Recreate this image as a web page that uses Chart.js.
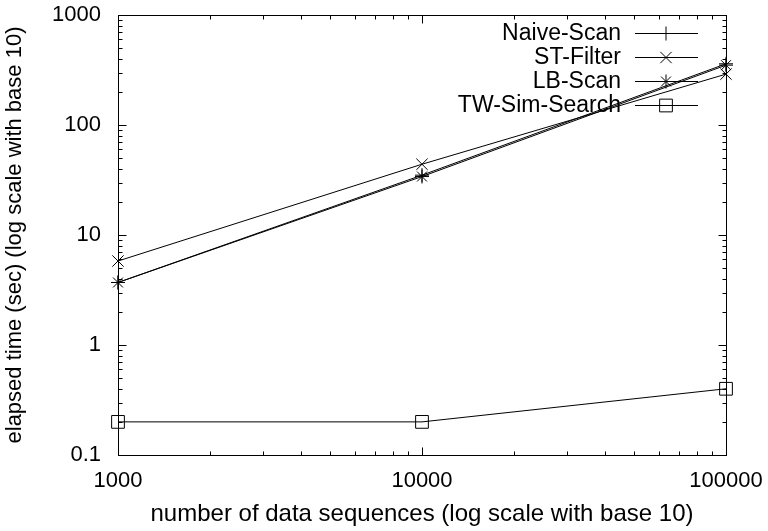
<!DOCTYPE html>
<html>
<head>
<meta charset="utf-8">
<script src="https://cdn.jsdelivr.net/npm/chart.js@4/dist/chart.umd.min.js"></script>
<style>
html,body{margin:0;padding:0;background:#fff;}
#wrap{width:768px;height:531px;position:relative;}
</style>
</head>
<body>
<div id="wrap"><canvas id="c" width="768" height="531"></canvas></div>
<script>
// ---- data ----
const categories = [1000, 10000, 100000];
const naiveScan = [3.7, 35, 360];
const stFilter = [5.8, 44, 290];
const lbScan = [3.7, 34, 350];
const twSimSearch = [0.2, 0.2, 0.4];
const seriesNames = ['Naive-Scan', 'ST-Filter', 'LB-Scan', 'TW-Sim-Search'];
const xTickValues = [1000, 10000, 100000];
const xTickLabels = ['1000', '10000', '100000'];
const yTickValues = [0.1, 1, 10, 100, 1000];
const yTickLabels = ['0.1', '1', '10', '100', '1000'];
const xTitle = 'number of data sequences (log scale with base 10)';
const yTitle = 'elapsed time (sec) (log scale with base 10)';

const FONT = "'Liberation Sans', Arial, Helvetica, sans-serif";
const styles = [
  {pointStyle: 'cross', radius: 7},
  {pointStyle: 'crossRot', radius: 8},
  {pointStyle: 'star', radius: 7},
  {pointStyle: 'rect', radius: 9}
];
const allSeries = [naiveScan, stFilter, lbScan, twSimSearch];

const datasets = allSeries.map((s, i) => ({
  label: seriesNames[i],
  data: categories.map((c, j) => ({x: c, y: s[j]})),
  borderColor: '#000',
  borderWidth: 1,
  backgroundColor: 'transparent',
  pointStyle: styles[i].pointStyle,
  pointRadius: styles[i].radius,
  pointHoverRadius: styles[i].radius,
  pointBorderColor: '#000',
  pointBackgroundColor: 'transparent',
  pointBorderWidth: 1,
  tension: 0,
  clip: false
}));

function drawMarker(ctx, style, r, x, y) {
  ctx.save();
  ctx.strokeStyle = '#000';
  ctx.lineWidth = 1;
  ctx.beginPath();
  if (style === 'cross' || style === 'star') {
    ctx.moveTo(x, y - r); ctx.lineTo(x, y + r);
    ctx.moveTo(x - r, y); ctx.lineTo(x + r, y);
  }
  if (style === 'crossRot' || style === 'star') {
    const d = r * Math.SQRT1_2;
    ctx.moveTo(x - d, y - d); ctx.lineTo(x + d, y + d);
    ctx.moveTo(x - d, y + d); ctx.lineTo(x + d, y - d);
  }
  if (style === 'rect') {
    const s = r * Math.SQRT1_2;
    ctx.rect(x - s, y - s, 2 * s, 2 * s);
  }
  ctx.stroke();
  ctx.restore();
}

function zeroPad(s) {
  s.paddingTop = 0; s.paddingBottom = 0; s.paddingLeft = 0; s.paddingRight = 0;
}

const framePlugin = {
  id: 'frameTicks',
  afterDraw(chart) {
    const ctx = chart.ctx;
    const a = chart.chartArea;
    const xs = chart.scales.x, ys = chart.scales.y;
    const L = Math.round(a.left) + 0.5, R = Math.round(a.right) + 0.5;
    const T = Math.round(a.top) + 0.5, B = Math.round(a.bottom) + 0.5;
    ctx.save();
    ctx.strokeStyle = '#000';
    ctx.lineWidth = 1;
    ctx.strokeRect(L, T, R - L, B - T);
    ctx.beginPath();
    for (let d = 1000; d <= 100000; d *= 10) {
      for (let m = 1; m <= 9; m++) {
        const v = d * m;
        if (v > 100000) break;
        const len = m === 1 ? 8 : 4;
        const px = Math.round(xs.getPixelForValue(v)) + 0.5;
        ctx.moveTo(px, B); ctx.lineTo(px, B - len);
        ctx.moveTo(px, T); ctx.lineTo(px, T + len);
      }
    }
    for (let d = 0.1; d <= 1000.0001; d *= 10) {
      for (let m = 1; m <= 9; m++) {
        const v = d * m;
        if (v > 1000.0001) break;
        const len = m === 1 ? 8 : 4;
        const py = Math.round(ys.getPixelForValue(v)) + 0.5;
        ctx.moveTo(L, py); ctx.lineTo(L + len, py);
        ctx.moveTo(R, py); ctx.lineTo(R - len, py);
      }
    }
    ctx.stroke();

    // legend (gnuplot style, inside top-right)
    ctx.font = '23px ' + FONT;
    ctx.fillStyle = '#000';
    ctx.textAlign = 'right';
    ctx.textBaseline = 'middle';
    const textRight = 621, lineL = 635, lineR = 698, mid = 666;
    const rowY = [33, 57, 81, 105];
    seriesNames.forEach((name, i) => {
      const y = rowY[i];
      ctx.fillText(name, textRight, y + 1);
      ctx.beginPath();
      ctx.moveTo(lineL, Math.round(y) + 0.5);
      ctx.lineTo(lineR, Math.round(y) + 0.5);
      ctx.stroke();
      drawMarker(ctx, styles[i].pointStyle, styles[i].radius, mid, Math.round(y) + 0.5);
    });
    ctx.restore();
  }
};

new Chart(document.getElementById('c'), {
  type: 'line',
  data: {datasets},
  options: {
    responsive: false,
    animation: false,
    devicePixelRatio: 1,
    layout: {padding: {top: 15, right: 42, left: 0, bottom: 0}},
    plugins: {legend: {display: false}, tooltip: {enabled: false}},
    scales: {
      x: {
        type: 'logarithmic',
        min: 1000, max: 100000,
        grid: {display: false, drawTicks: false},
        border: {display: false},
        afterBuildTicks: (s) => { s.ticks = xTickValues.map(v => ({value: v})); },
        afterFit: (s) => { s.height = 76; zeroPad(s); },
        ticks: {
          autoSkip: false, maxRotation: 0, padding: 13,
          color: '#000', font: {family: FONT, size: 22},
          callback: (v, i) => xTickLabels[i]
        },
        title: {display: true, text: xTitle, color: '#000',
          font: {family: FONT, size: 24}, padding: {top: 0, bottom: 2}}
      },
      y: {
        type: 'logarithmic',
        min: 0.1, max: 1000,
        grid: {display: false, drawTicks: false},
        border: {display: false},
        afterBuildTicks: (s) => { s.ticks = yTickValues.map(v => ({value: v})); },
        afterFit: (s) => { s.width = 118; zeroPad(s); },
        ticks: {
          autoSkip: false, padding: 17,
          color: '#000', font: {family: FONT, size: 22},
          callback: (v, i) => yTickLabels[i]
        },
        title: {display: true, text: yTitle, color: '#000',
          font: {family: FONT, size: 22}, padding: {top: 2, bottom: 0}}
      }
    }
  },
  plugins: [framePlugin]
});
</script>
</body>
</html>
